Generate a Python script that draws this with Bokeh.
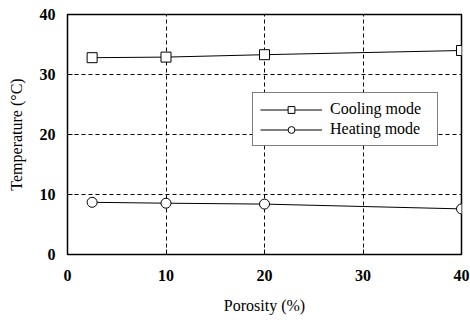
from bokeh.plotting import figure
from bokeh.models import Range1d, FixedTicker, Legend, LegendItem
from bokeh.embed import file_html
from bokeh.resources import INLINE

# Data: temperature vs. porosity
porosity = [2.5, 10, 20, 40]
cooling_temp = [32.8, 32.9, 33.3, 34.0]
heating_temp = [8.7, 8.55, 8.4, 7.6]
ticks = [0, 10, 20, 30, 40]

FONT = "Liberation Serif"

p = figure(width=470, height=320, output_backend="svg", toolbar_location=None,
           x_range=Range1d(0, 40), y_range=Range1d(0, 40),
           min_border_left=67, min_border_right=9, min_border_top=14, min_border_bottom=66)

p.outline_line_color = "black"
p.outline_line_width = 1.5
p.background_fill_color = "white"
p.border_fill_color = "white"

for ax in (p.xaxis[0], p.yaxis[0]):
    ax.ticker = FixedTicker(ticks=ticks)
    ax.axis_line_color = None
    ax.major_tick_in = 5
    ax.major_tick_out = 0
    ax.minor_tick_line_color = None
    ax.major_tick_line_color = "black"
    ax.major_label_text_font = FONT
    ax.major_label_text_font_size = "16px"
    ax.major_label_text_font_style = "bold"
    ax.major_label_text_color = "black"
    ax.axis_label_text_font = FONT
    ax.axis_label_text_font_size = "16px"
    ax.axis_label_text_font_style = "normal"
    ax.axis_label_text_color = "black"

p.xaxis.axis_label = "Porosity (%)"
p.yaxis.axis_label = "Temperature (°C)"
p.xaxis.major_label_standoff = 15
p.yaxis.major_label_standoff = 12
p.xaxis.axis_label_standoff = 13
p.yaxis.axis_label_standoff = 12

for g in (p.xgrid[0], p.ygrid[0]):
    g.ticker = FixedTicker(ticks=[10, 20, 30])
    g.grid_line_color = "black"
    g.grid_line_dash = "4 3"
    g.grid_line_width = 1

cl = p.line(porosity, cooling_temp, line_color="black", line_width=1)
cm = p.scatter(porosity, cooling_temp, marker="square", size=10,
               fill_color="white", line_color="black", line_width=1)
hl = p.line(porosity, heating_temp, line_color="black", line_width=1)
hm = p.scatter(porosity, heating_temp, marker="circle", size=10,
               fill_color="white", line_color="black", line_width=1)

legend = Legend(items=[LegendItem(label="Cooling mode", renderers=[cl, cm]),
                       LegendItem(label="Heating mode", renderers=[hl, hm])],
                location=(185, 108))
legend.border_line_color = "black"
legend.border_line_width = 1.5
legend.background_fill_color = "white"
legend.background_fill_alpha = 1
legend.label_text_font = FONT
legend.label_text_font_size = "16px"
legend.label_text_color = "black"
legend.glyph_width = 62
legend.glyph_height = 17
legend.label_height = 17
legend.label_width = 100
legend.padding = 7
legend.spacing = 2
legend.margin = 0
legend.label_standoff = 8
p.add_layout(legend, "center")

open("out.html", "w").write(file_html(p, INLINE))
